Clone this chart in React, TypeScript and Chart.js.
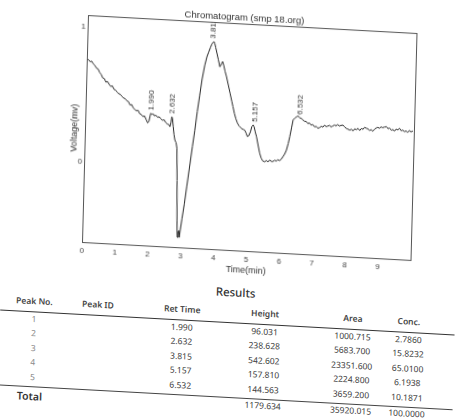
import React, { useEffect, useRef } from "react";
import { Chart, registerables } from "chart.js";
Chart.register(...registerables);

// ---- chromatogram trace (time in min, voltage) ----
const times = [
  0.0, 0.05, 0.1, 0.15, 0.2, 0.25, 0.3, 0.35, 0.4, 0.45, 0.5, 0.55, 0.6, 0.65, 0.7, 0.75, 0.8, 0.85, 0.9, 0.95,
  1.0, 1.05, 1.1, 1.15, 1.2, 1.25, 1.3, 1.35, 1.4, 1.45, 1.5, 1.55, 1.6, 1.65, 1.7, 1.75, 1.8, 1.85, 1.9, 1.94,
  1.97, 1.99, 2.02, 2.06, 2.1, 2.15, 2.2, 2.25, 2.3, 2.35, 2.4, 2.45, 2.5, 2.55, 2.58, 2.61, 2.63, 2.65, 2.68, 2.71,
  2.74, 2.78, 2.81, 2.84, 2.87, 2.89, 2.91, 2.93, 2.95, 2.98, 3.02, 3.08, 3.14, 3.22, 3.28, 3.34, 3.4, 3.46, 3.52, 3.59,
  3.65, 3.7, 3.75, 3.79, 3.82, 3.85, 3.88, 3.91, 3.95, 4.0, 4.05, 4.09, 4.13, 4.17, 4.21, 4.26, 4.32, 4.38, 4.44, 4.48,
  4.53, 4.58, 4.63, 4.68, 4.72, 4.77, 4.82, 4.86, 4.9, 4.94, 4.98, 5.03, 5.07, 5.11, 5.14, 5.18, 5.22, 5.27, 5.33, 5.38,
  5.43, 5.49, 5.54, 5.59, 5.64, 5.69, 5.74, 5.79, 5.84, 5.89, 5.94, 5.99, 6.04, 6.09, 6.14, 6.19, 6.23, 6.28, 6.32, 6.37,
  6.42, 6.47, 6.52, 6.57, 6.62, 6.67, 6.72, 6.77, 6.82, 6.87, 6.92, 6.97, 7.03, 7.08, 7.13, 7.18, 7.23, 7.28, 7.33, 7.38,
  7.43, 7.48, 7.53, 7.58, 7.63, 7.68, 7.73, 7.78, 7.84, 7.89, 7.94, 7.99, 8.05, 8.1, 8.15, 8.2, 8.25, 8.3, 8.35, 8.4,
  8.45, 8.5, 8.55, 8.6, 8.65, 8.7, 8.75, 8.8, 8.85, 8.9, 8.95, 9.0, 9.05, 9.1, 9.16, 9.21, 9.26, 9.31, 9.36, 9.41,
  9.46, 9.51, 9.56, 9.61, 9.66, 9.71, 9.76, 9.81, 9.86, 9.91, 9.97,
];
const volts = [
  0.77, 0.76, 0.745, 0.75, 0.73, 0.72, 0.7, 0.695, 0.67, 0.655, 0.63, 0.625, 0.6, 0.605, 0.585, 0.57, 0.575, 0.55, 0.545, 0.53,
  0.52, 0.515, 0.5, 0.49, 0.485, 0.47, 0.465, 0.44, 0.445, 0.42, 0.41, 0.4, 0.405, 0.38, 0.375, 0.36, 0.365, 0.34, 0.315, 0.33,
  0.37, 0.388, 0.38, 0.385, 0.37, 0.375, 0.36, 0.365, 0.35, 0.34, 0.345, 0.325, 0.315, 0.31, 0.296, 0.33, 0.371, 0.36, 0.3, 0.24,
  0.2, 0.18, 0.14, -0.1, -0.4, -0.52, -0.48, -0.47, -0.52, -0.46, -0.38, -0.27, -0.14, 0.03, 0.16, 0.28, 0.42, 0.54, 0.66, 0.765,
  0.83, 0.865, 0.9, 0.925, 0.935, 0.944, 0.93, 0.9, 0.86, 0.81, 0.76, 0.78, 0.8, 0.77, 0.73, 0.69, 0.63, 0.57, 0.51, 0.47,
  0.42, 0.38, 0.35, 0.33, 0.32, 0.31, 0.305, 0.3, 0.28, 0.255, 0.26, 0.29, 0.33, 0.342, 0.33, 0.29, 0.257, 0.2, 0.136, 0.1,
  0.08, 0.075, 0.085, 0.075, 0.09, 0.08, 0.08, 0.09, 0.085, 0.095, 0.09, 0.1, 0.12, 0.14, 0.17, 0.22, 0.27, 0.34, 0.396, 0.41,
  0.42, 0.427, 0.415, 0.41, 0.4, 0.39, 0.39, 0.375, 0.38, 0.365, 0.37, 0.355, 0.356, 0.345, 0.35, 0.36, 0.355, 0.37, 0.36, 0.365,
  0.37, 0.36, 0.367, 0.375, 0.37, 0.38, 0.37, 0.375, 0.378, 0.365, 0.355, 0.35, 0.344, 0.35, 0.34, 0.355, 0.35, 0.36, 0.345, 0.36,
  0.355, 0.37, 0.364, 0.36, 0.35, 0.355, 0.345, 0.36, 0.37, 0.375, 0.37, 0.38, 0.375, 0.38, 0.384, 0.37, 0.375, 0.36, 0.365, 0.355,
  0.37, 0.365, 0.377, 0.36, 0.365, 0.355, 0.36, 0.35, 0.365, 0.355, 0.363,
];

const peakTimes = [1.99, 2.632, 3.815, 5.157, 6.532];
const peakLabels = ["1.990", "2.632", "3.815", "5.157", "6.532"];
const xTicks = [0, 1, 2, 3, 4, 5, 6, 7, 8, 9];
const yTicks = [0, 1];
const xMin = 0;
const xMax = 10;
const yMin = -0.593;
const yMax = 1.09;

// ---- results table ----
const headers = ["Peak No.", "Peak ID", "Ret Time", "Height", "Area", "Conc."];
const peakNos = ["1", "2", "3", "4", "5"];
const retTimes = ["1.990", "2.632", "3.815", "5.157", "6.532"];
const heights = ["96.031", "238.628", "542.602", "157.810", "144.563"];
const areas = ["1000.715", "5683.700", "23351.600", "2224.800", "3659.200"];
const concs = ["2.7860", "15.8232", "65.0100", "6.1938", "10.1871"];
const totals = ["1179.634", "35920.015", "100.0000"];

const CHART_FONT = "'Liberation Sans Narrow', 'Liberation Sans', Arial, sans-serif";
const TABLE_FONT = "'Noto Sans', 'DejaVu Sans', sans-serif";

function ChromChart() {
  const ref = useRef<HTMLCanvasElement | null>(null);
  useEffect(() => {
    if (!ref.current) return;
    const boxPlugin = {
      id: "boxAndLabels",
      afterDatasetsDraw(chart: any) {
        const { ctx, chartArea, scales } = chart;
        const x = scales.x;
        const y = scales.y;
        ctx.save();
        ctx.strokeStyle = "#555";
        ctx.lineWidth = 1;
        ctx.strokeRect(
          Math.round(chartArea.left) + 0.5,
          Math.round(chartArea.top) + 0.5,
          Math.round(chartArea.width),
          Math.round(chartArea.height)
        );
        ctx.beginPath();
        ctx.rect(chartArea.left, chartArea.top, chartArea.width, chartArea.height);
        ctx.clip();
        ctx.font = "8px " + CHART_FONT;
        ctx.fillStyle = "#333";
        ctx.textAlign = "left";
        ctx.textBaseline = "middle";
        peakTimes.forEach((pt, i) => {
          let best = -Infinity;
          times.forEach((t, j) => {
            if (Math.abs(t - pt) < 0.06 && volts[j] > best) best = volts[j];
          });
          const px = x.getPixelForValue(pt);
          const py = y.getPixelForValue(best);
          ctx.save();
          ctx.translate(px, py - 3);
          ctx.rotate(-Math.PI / 2);
          ctx.fillText(peakLabels[i], 0, 0);
          ctx.restore();
        });
        ctx.restore();
      },
    };
    const chart = new Chart(ref.current, {
      type: "line",
      data: {
        datasets: [
          {
            data: times.map((t, i) => ({ x: t, y: volts[i] })),
            borderColor: "#262626",
            borderWidth: 1,
            pointRadius: 0,
            tension: 0,
            fill: false,
          },
        ],
      },
      options: {
        animation: false,
        responsive: false,
        devicePixelRatio: 1,
        layout: { padding: { top: 6, left: 0, right: 30, bottom: 0 } },
        plugins: {
          legend: { display: false },
          tooltip: { enabled: false },
          title: {
            display: true,
            text: "Chromatogram (smp 18.org)",
            color: "#333",
            font: { size: 9.5, family: CHART_FONT, weight: "normal", lineHeight: 1.26 },
            padding: { top: 2, bottom: 0 },
          },
        },
        scales: {
          x: {
            type: "linear",
            min: xMin,
            max: xMax,
            grid: { display: false, drawTicks: false },
            border: { display: false },
            afterBuildTicks: (s: any) => {
              s.ticks = xTicks.map((v) => ({ value: v }));
            },
            afterFit: (s: any) => {
              s.height = 25;
            },
            ticks: {
              autoSkip: false,
              maxRotation: 0,
              padding: 4,
              color: "#444",
              font: { size: 8, family: CHART_FONT },
            },
            title: {
              display: true,
              text: "Time(min)",
              color: "#333",
              font: { size: 9, family: CHART_FONT },
              padding: 0,
            },
          },
          y: {
            type: "linear",
            min: yMin,
            max: yMax,
            grid: { display: false, drawTicks: false },
            border: { display: false },
            afterBuildTicks: (s: any) => {
              s.ticks = yTicks.map((v) => ({ value: v }));
            },
            afterFit: (s: any) => {
              s.width = 16;
            },
            ticks: {
              padding: 2,
              color: "#444",
              font: { size: 8, family: CHART_FONT },
            },
            title: {
              display: true,
              text: "Voltage(mv)",
              color: "#333",
              font: { size: 9, family: CHART_FONT },
              padding: 0,
            },
          },
        },
      },
      plugins: [boxPlugin],
    } as any);
    return () => chart.destroy();
  }, []);
  return (
    <canvas
      ref={ref}
      width={375}
      height={272}
      style={{ position: "absolute", left: -16, top: -20, width: 375, height: 272 }}
    />
  );
}

function Cell({ u, v, text, style }: { u: number; v: number; text: string; style?: React.CSSProperties }) {
  return (
    <div
      style={{
        position: "absolute",
        left: u,
        top: v,
        transform: "translate(-50%, -50%)",
        whiteSpace: "nowrap",
        lineHeight: 1,
        fontFamily: TABLE_FONT,
        fontSize: 8.5,
        color: "#3a3a3a",
        ...style,
      }}
    >
      {text}
    </div>
  );
}

export default function App() {
  const colU = [-46, 17.6, 102, 185, 273, 329];
  const headerV = 288.5;
  const rowV0 = 306.5;
  const rowStep = 14.5;
  const columns = [peakNos, [] as string[], retTimes, heights, areas, concs];
  return (
    <div
      style={{
        position: "absolute",
        left: 0,
        top: 0,
        width: 461,
        height: 420,
        overflow: "hidden",
        background: "#fff",
      }}
    >
      <div
        style={{
          position: "absolute",
          left: 88,
          top: 15,
          width: 0,
          height: 0,
          transformOrigin: "0 0",
          transform: "matrix(0.9985, 0.0546, -0.0264, 0.9997, 0, 0)",
        }}
      >
        <ChromChart />
        <Cell u={155} v={269} text="Results" style={{ fontSize: 11.5, fontWeight: 500, color: "#333" }} />
        {headers.map((h, i) => (
          <Cell key={"h" + i} u={colU[i]} v={headerV} text={h} style={{ fontWeight: 600, color: "#444" }} />
        ))}
        <div style={{ position: "absolute", left: -80, top: 298.5, width: 455, height: 1.5, background: "#333" }} />
        {columns.map((col, ci) =>
          col.map((val, ri) => (
            <Cell
              key={"c" + ci + "-" + ri}
              u={colU[ci]}
              v={rowV0 + ri * rowStep}
              text={val}
              style={ci === 0 ? { color: "#888" } : undefined}
            />
          ))
        )}
        <div style={{ position: "absolute", left: -80, top: 373.5, width: 455, height: 1.2, background: "#444" }} />
        <div
          style={{
            position: "absolute",
            left: -61,
            top: 384,
            transform: "translateY(-50%)",
            fontFamily: TABLE_FONT,
            fontSize: 10.5,
            fontWeight: 600,
            color: "#333",
            lineHeight: 1,
          }}
        >
          Total
        </div>
        {totals.map((t, i) => (
          <Cell key={"t" + i} u={colU[i + 3]} v={381} text={t} />
        ))}
      </div>
    </div>
  );
}
